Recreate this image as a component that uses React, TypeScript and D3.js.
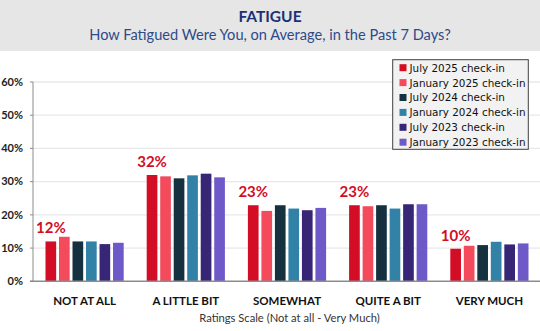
import React from "react";
import * as d3 from "d3";

const categories = ["NOT AT ALL", "A LITTLE BIT", "SOMEWHAT", "QUITE A BIT", "VERY MUCH"];
const seriesNames = [
  "July 2025 check-in",
  "January 2025 check-in",
  "July 2024 check-in",
  "January 2024 check-in",
  "July 2023 check-in",
  "January 2023 check-in",
];
const seriesColors = ["#D20D25", "#F34A5C", "#15303F", "#3282A8", "#372676", "#6E59C8"];
const july2025 = [12.0, 32.0, 22.9, 22.9, 9.8];
const jan2025 = [13.4, 31.6, 21.2, 22.6, 10.7];
const july2024 = [12.0, 31.0, 22.9, 22.9, 10.9];
const jan2024 = [12.0, 31.9, 21.9, 21.9, 11.9];
const july2023 = [11.2, 32.4, 21.4, 23.2, 11.1];
const jan2023 = [11.6, 31.3, 22.1, 23.2, 11.4];
const yTicks = [0, 10, 20, 30, 40, 50, 60];

const seriesValues = [july2025, jan2025, july2024, jan2024, july2023, jan2023];

export default function App() {
  const W = 540, H = 331;
  const x0 = d3.scaleBand<string>().domain(categories).range([34, 540]).padding(0);
  const x1 = d3.scaleBand<string>().domain(seriesNames).range([-39.1, 39.1]).paddingInner(0.21).paddingOuter(0);
  const y = d3.scaleLinear().domain([0, 60]).range([281.3, 82]);
  const font = "Lato, 'Open Sans', sans-serif";

  return (
    <svg width={W} height={H} style={{ position: "absolute", left: 0, top: 0, background: "#fff" }}>
      <rect x={0} y={0} width={W} height={51} fill="#e6e6e6" />
      <text x={270} y={21.5} textAnchor="middle" fontFamily={font} fontWeight={700} fontSize={15.5} fill="#1A3275">FATIGUE</text>
      <text x={270} y={39.5} textAnchor="middle" fontFamily={font} fontSize={14.6} fill="#2F4A8A">How Fatigued Were You, on Average, in the Past 7 Days?</text>

      {yTicks.slice(1).map((t) => (
        <line key={"g" + t} x1={33} x2={540} y1={y(t)} y2={y(t)} stroke="#e8e8e8" strokeWidth={1.3} />
      ))}
      {yTicks.map((t) => (
        <g key={"t" + t}>
          <line x1={30} x2={33} y1={y(t)} y2={y(t)} stroke="#8c8c8c" strokeWidth={1} />
          <text x={23} y={y(t) + 3.8} textAnchor="end" fontFamily={font} fontWeight={700} fontSize={11} fill="#222">{t}%</text>
        </g>
      ))}

      {categories.map((c, ci) => (
        <g key={c} transform={`translate(${x0(c)! + x0.bandwidth() / 2},0)`}>
          {seriesNames.map((s, si) => {
            const v = seriesValues[si][ci];
            return (
              <rect key={s} x={x1(s)!} width={x1.bandwidth()} y={y(v)} height={y(0) - y(v)} fill={seriesColors[si]} />
            );
          })}
          <text x={x1(seriesNames[0])! + x1.bandwidth() / 2} y={y(seriesValues[0][ci]) - 8} textAnchor="middle"
            fontFamily={font} fontWeight={700} fontSize={15} fill="#D20D25">{Math.round(seriesValues[0][ci])}%</text>
          <text x={0} y={304.5} textAnchor="middle" fontFamily={font} fontWeight={700} fontSize={11.5} fill="#111">{c}</text>
        </g>
      ))}

      <line x1={33} x2={33} y1={82} y2={281.3} stroke="#8c8c8c" strokeWidth={1} />
      <line x1={30} x2={540} y1={281.3} y2={281.3} stroke="#8c8c8c" strokeWidth={1.5} />

      <text x={289.5} y={321.5} textAnchor="middle" fontFamily={font} fontSize={11.2} fill="#333">Ratings Scale (Not at all - Very Much)</text>

      <rect x={392.7} y={59.7} width={135.6} height={89.6} fill="#f2f2f2" stroke="#404040" strokeWidth={1} />
      {seriesNames.map((s, i) => {
        const cy = 67.7 + i * 14.9;
        return (
          <g key={"l" + s}>
            <rect x={399.5} y={cy - 3.5} width={7} height={7} fill={seriesColors[i]} />
            <text x={409.5} y={cy + 3.9} fontFamily="'DejaVu Sans', sans-serif" fontSize={10.4} fill="#111">{s}</text>
          </g>
        );
      })}
    </svg>
  );
}
